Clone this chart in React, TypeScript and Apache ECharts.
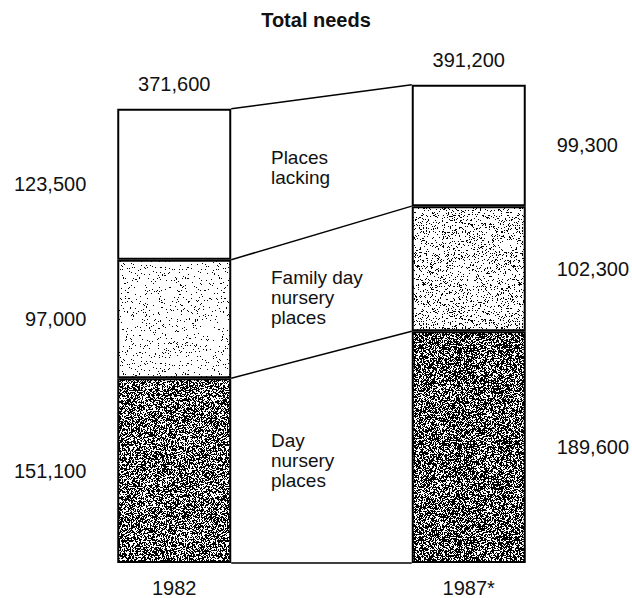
import React, { useEffect, useRef } from "react";
import * as echarts from "echarts";

const years = ["1982", "1987*"];
const dayNursery = [151100, 189600];
const familyDay = [97000, 102300];
const placesLacking = [123500, 99300];
const totals = [371600, 391200];
const middleLabels = ["Day\nnursery\nplaces", "Family day\nnursery\nplaces", "Places\nlacking"];

const FONT = "'Liberation Sans', Arial, sans-serif";
const BAR_W = 114;
const HALF = BAR_W / 2;

const fmt = (v: number) => v.toLocaleString("en-US");

function makeTexture(density: number, seed: number, size = 96) {
  const c = document.createElement("canvas");
  c.width = size;
  c.height = size;
  const ctx = c.getContext("2d")!;
  ctx.fillStyle = "#fff";
  ctx.fillRect(0, 0, size, size);
  let s = seed;
  const rnd = () => {
    s = (s * 1103515245 + 12345) % 2147483648;
    return s / 2147483648;
  };
  ctx.fillStyle = "#000";
  for (let y = 0; y < size; y++) {
    for (let x = 0; x < size; x++) {
      if (rnd() < density) ctx.fillRect(x, y, 1, 1);
    }
  }
  return { image: c, repeat: "repeat", imageWidth: size, imageHeight: size } as any;
}

export default function App() {
  const ref = useRef<HTMLDivElement>(null);
  useEffect(() => {
    if (!ref.current) return;
    const chart = echarts.init(ref.current, null, { renderer: "svg" });
    const darkTex = [makeTexture(0.55, 7), makeTexture(0.6, 11)];
    const lightTex = [makeTexture(0.05, 3), makeTexture(0.14, 5)];

    const lvl1 = dayNursery;
    const lvl2 = dayNursery.map((v, i) => v + familyDay[i]);
    const lvl3 = lvl2.map((v, i) => v + placesLacking[i]);
    const lvl0 = [0, 0];
    const levels = [lvl0, lvl1, lvl2, lvl3];
    const connectorData = levels.map((l) => [0, l[0], l[1]]);
    const regionData = [0, 1, 2].map((k) => [0, levels[k][0], levels[k][1], levels[k + 1][0], levels[k + 1][1]]);
    const totalData = totals.map((v, i) => [i, v]);

    const labelBase = {
      show: true,
      distance: 31,
      fontSize: 20,
      color: "#111",
      fontFamily: FONT,
      formatter: (p: any) => fmt(p.value),
    };
    const mkData = (arr: number[], colors: any[]) =>
      arr.map((v, i) => ({
        value: v,
        itemStyle: { color: colors[i] },
        label: { position: i === 0 ? "left" : "right" },
      }));

    chart.setOption({
      animation: false,
      title: {
        text: "Total needs",
        left: "center",
        top: 5,
        textStyle: { fontSize: 20, fontWeight: "bold", color: "#111", fontFamily: FONT },
      },
      grid: { left: 27, right: 16, top: 74, bottom: 34 },
      xAxis: {
        type: "category",
        data: years,
        axisLine: { show: false },
        axisTick: { show: false },
        axisLabel: { fontSize: 20, color: "#111", margin: 15, fontFamily: FONT },
      },
      yAxis: { type: "value", min: 0, max: 400000, show: false, splitLine: { show: false } },
      series: [
        {
          type: "bar",
          name: "Day nursery places",
          stack: "total",
          barWidth: BAR_W,
          data: mkData(dayNursery, darkTex),
          itemStyle: { borderColor: "#000", borderWidth: 2 },
          label: labelBase,
          z: 3,
        },
        {
          type: "bar",
          name: "Family day nursery places",
          stack: "total",
          barWidth: BAR_W,
          data: mkData(familyDay, lightTex),
          itemStyle: { borderColor: "#000", borderWidth: 2 },
          label: labelBase,
          z: 3,
        },
        {
          type: "bar",
          name: "Places lacking",
          stack: "total",
          barWidth: BAR_W,
          data: mkData(placesLacking, ["#fff", "#fff"]),
          itemStyle: { borderColor: "#000", borderWidth: 2 },
          label: labelBase,
          z: 3,
        },
        {
          type: "custom",
          name: "Total",
          data: totalData,
          encode: { x: 0, y: 1 },
          renderItem: (params: any, api: any) => {
            const p = api.coord([api.value(0), api.value(1)]);
            return {
              type: "text",
              x: p[0],
              y: p[1] - 25,
              style: {
                text: fmt(api.value(1)),
                fontSize: 20,
                fill: "#111",
                fontFamily: FONT,
                align: "center",
                verticalAlign: "middle",
              },
            };
          },
          z: 5,
        },
        {
          type: "custom",
          name: "connectors",
          data: connectorData,
          encode: { x: 0, y: [1, 2] },
          renderItem: (params: any, api: any) => {
            const a = api.coord([0, api.value(1)]);
            const b = api.coord([1, api.value(2)]);
            return {
              type: "line",
              shape: { x1: a[0] + HALF, y1: a[1], x2: b[0] - HALF, y2: b[1] },
              style: { stroke: "#000", lineWidth: 1.5 },
            };
          },
          z: 2,
        },
        {
          type: "custom",
          name: "region labels",
          data: regionData,
          encode: { x: 0, y: [1, 2, 3, 4] },
          renderItem: (params: any, api: any) => {
            const lo0 = api.coord([0, api.value(1)]);
            const lo1 = api.coord([1, api.value(2)]);
            const hi0 = api.coord([0, api.value(3)]);
            const hi1 = api.coord([1, api.value(4)]);
            const xl = lo0[0] + HALF;
            const xr = lo1[0] - HALF;
            const tx = xl + 0.22 * (xr - xl);
            const f = 0.42;
            const yl = lo0[1] + (lo1[1] - lo0[1]) * f;
            const yu = hi0[1] + (hi1[1] - hi0[1]) * f;
            return {
              type: "text",
              x: tx,
              y: (yl + yu) / 2,
              style: {
                text: middleLabels[params.dataIndex],
                fontSize: 19,
                lineHeight: 20,
                fill: "#111",
                fontFamily: FONT,
                align: "left",
                verticalAlign: "middle",
              },
            };
          },
          z: 5,
        },
      ],
    });
    return () => chart.dispose();
  }, []);
  return (
    <div
      ref={ref}
      style={{ position: "fixed", left: 0, top: 0, width: 632, height: 598, background: "#fff" }}
    />
  );
}
